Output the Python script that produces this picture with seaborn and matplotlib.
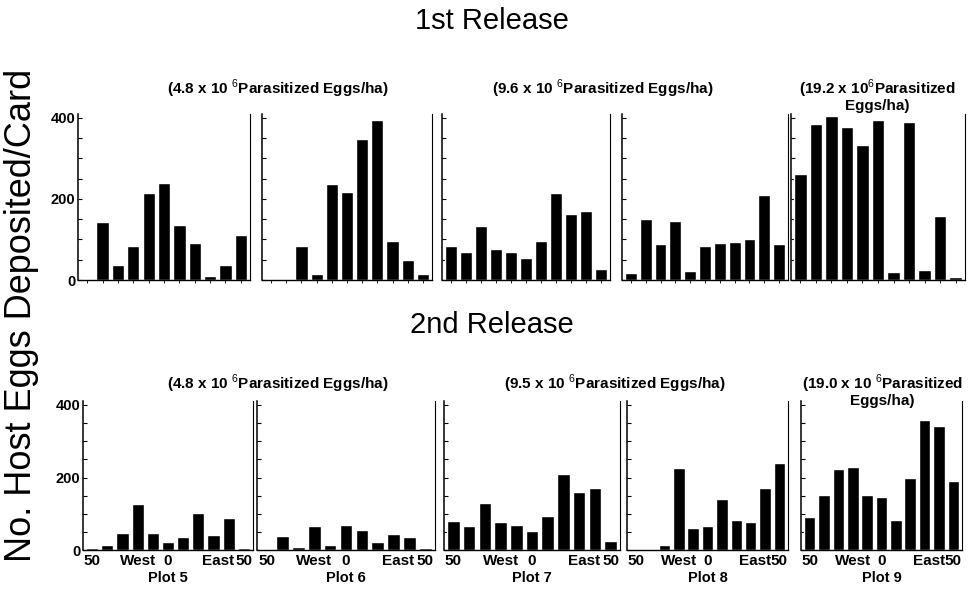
import matplotlib
matplotlib.use("Agg")
import matplotlib.pyplot as plt
import seaborn as sns

# distance along transect (m), west -> east
distance = [-50, -40, -30, -20, -10, 0, 10, 20, 30, 40, 50]
plot_names = ["Plot 5", "Plot 6", "Plot 7", "Plot 8", "Plot 9"]

# 1st release, host eggs per card
rel1_plot5 = [0, 142, 36, 83, 214, 239, 137, 92, 10, 36, 110]
rel1_plot6 = [0, 3, 85, 14, 237, 217, 348, 395, 96, 50, 14]
rel1_plot7 = [83, 69, 133, 77, 69, 54, 96, 214, 164, 171, 27]
rel1_plot8 = [17, 151, 88, 145, 22, 83, 91, 95, 100, 210, 90]
rel1_plot9 = [262, 385, 405, 377, 334, 396, 19, 391, 25, 159, 7]

# 2nd release
rel2_plot5 = [6, 13, 46, 126, 46, 22, 36, 103, 41, 87, 5]
rel2_plot6 = [2, 40, 9, 65, 15, 69, 56, 23, 45, 36, 5]
rel2_plot7 = [81, 66, 131, 76, 68, 52, 93, 211, 159, 170, 25]
rel2_plot8 = [2, 2, 14, 225, 61, 66, 140, 82, 77, 171, 241]
rel2_plot9 = [92, 153, 224, 230, 152, 146, 83, 198, 358, 343, 191]

rel1_titles = [r"(4.8 x 10 $^{6}$Parasitized Eggs/ha)",
               r"(9.6 x 10 $^{6}$Parasitized Eggs/ha)",
               "(19.2 x 10$^{6}$Parasitized\nEggs/ha)"]
rel2_titles = [r"(4.8 x 10 $^{6}$Parasitized Eggs/ha)",
               r"(9.5 x 10 $^{6}$Parasitized Eggs/ha)",
               "(19.0 x 10 $^{6}$Parasitized\nEggs/ha)"]

sns.set_style("ticks")
plt.rcParams["font.family"] = ["Liberation Sans", "DejaVu Sans"]
plt.rcParams["mathtext.fontset"] = "custom"
plt.rcParams["mathtext.rm"] = "Liberation Sans"
plt.rcParams["mathtext.bf"] = "Liberation Sans:bold"
for k in ["text.color", "axes.labelcolor", "xtick.color", "ytick.color",
          "axes.edgecolor"]:
    plt.rcParams[k] = "black"

W, H = 973, 597
fig = plt.figure(figsize=(W / 100, H / 100), dpi=100)


def px_axes(l, t, r, b):
    return fig.add_axes([l / W, 1 - b / H, (r - l) / W, (b - t) / H])


def draw_panel(ax, vals, first, bottom):
    sns.barplot(x=distance, y=vals, color="black", saturation=1,
                width=0.8, ax=ax)
    ax.set_xlim(-0.6, 10.6)
    ax.set_ylim(0, 410)
    ax.spines["top"].set_visible(False)
    ax.spines["left"].set_linewidth(1.1)
    ax.spines["right"].set_linewidth(0.8)
    ax.spines["bottom"].set_linewidth(1.0)
    ax.set_yticks(range(0, 401, 50))
    if first:
        ax.set_yticklabels(["0", "", "", "", "200", "", "", "", "400"],
                           fontsize=10.5, fontweight="bold")
    else:
        ax.set_yticklabels([])
    ax.tick_params(axis="y", direction="in", length=3, width=0.8, pad=2)
    if bottom:
        ax.set_xticks([0, 3, 5, 8.3, 10])
        ax.set_xticklabels(["50", "West", "0", "East", "50"],
                           fontsize=11, fontweight="bold")
        ax.tick_params(axis="x", length=0, pad=3)
    else:
        ax.set_xticks(range(11))
        ax.set_xticklabels([])
        ax.tick_params(axis="x", direction="out", length=2, width=0.6)
    ax.set_xlabel("")
    ax.set_ylabel("")


top_boxes = [(78, 250), (262, 432), (442, 610), (622, 788), (791, 965)]
bot_boxes = [(83, 253), (257, 435), (444, 620), (627, 788), (801, 962)]
rel1 = [rel1_plot5, rel1_plot6, rel1_plot7, rel1_plot8, rel1_plot9]
rel2 = [rel2_plot5, rel2_plot6, rel2_plot7, rel2_plot8, rel2_plot9]

# top row: 0 at y=280, 400 at y=118
for i, (l, r) in enumerate(top_boxes):
    ax = px_axes(l, 280 - 410 * 0.405, r, 280)
    draw_panel(ax, rel1[i], i == 0, False)

# bottom row: 0 at y=550, 400 at y=405
for i, (l, r) in enumerate(bot_boxes):
    ax = px_axes(l, 550 - 410 * 0.3625, r, 550)
    draw_panel(ax, rel2[i], i == 0, True)
    ax.set_xlabel(plot_names[i], fontsize=10.5, fontweight="bold", labelpad=2)

fig.text(492 / W, 1 - 21 / H, "1st Release", ha="center", va="center",
         fontsize=21)
fig.text(492 / W, 1 - 325 / H, "2nd Release", ha="center", va="center",
         fontsize=21)
fig.text(22 / W, 1 - 315 / H, "No. Host Eggs Deposited/Card", rotation=90,
         ha="center", va="center", fontsize=26)

sub_x = [278, 603, 877]
for x, t in zip(sub_x, rel1_titles):
    fig.text(x / W, 1 - 78 / H, t, ha="center", va="top", fontsize=11,
             fontweight="bold", linespacing=0.9)
sub_x2 = [278, 615, 882]
for x, t in zip(sub_x2, rel2_titles):
    fig.text(x / W, 1 - 373 / H, t, ha="center", va="top", fontsize=11,
             fontweight="bold", linespacing=0.9)

fig.savefig("out.png", dpi=100)
